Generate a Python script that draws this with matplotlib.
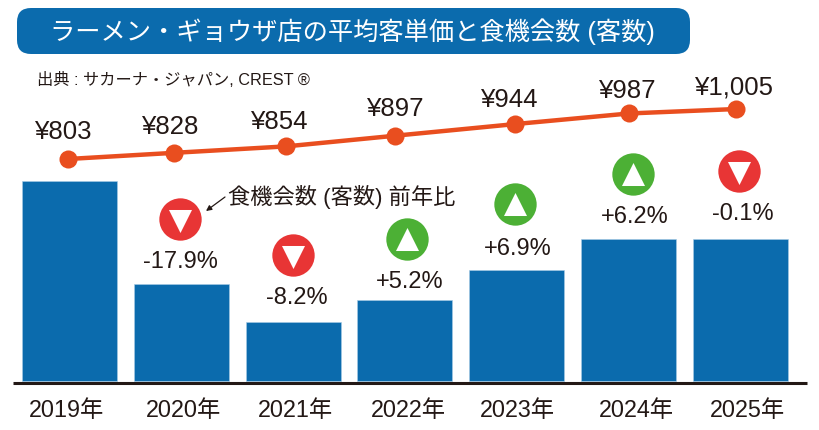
import matplotlib
matplotlib.use("Agg")
import matplotlib.pyplot as plt
from matplotlib.patches import FancyBboxPatch

plt.rcParams['font.family'] = ['Liberation Sans', 'Noto Sans CJK JP', 'DejaVu Sans']

# Chart data
years = ["2019年", "2020年", "2021年", "2022年", "2023年", "2024年", "2025年"]
price_yen = [803, 828, 854, 897, 944, 987, 1005]
price_labels = ["¥803", "¥828", "¥854", "¥897", "¥944", "¥987", "¥1,005"]
visits_index = [99.6, 48.3, 29.4, 40.3, 55.2, 70.6, 70.6]
change_labels = ["-17.9%", "-8.2%", "+5.2%", "+6.9%", "+6.2%", "-0.1%"]
title_text = "ラーメン・ギョウザ店の平均客単価と食機会数 (客数)"
source_text = "出典 : サカーナ・ジャパン, CREST ®"
note_text = "食機会数 (客数) 前年比"

# Layout, in figure pixels measured from the top left
BAR_X0, BAR_STEP = 69.5, 111.83
line_shift = [-1.5, -7, -7, -10, -2, 0.5, -4]
price_label_xy = [(62.7, 132), (169.7, 127), (278.7, 122), (395, 109),
                  (509, 100.3), (627, 91), (734, 87.7)]
change_label_xy = [(180, 262), (296.7, 297.7), (410, 282),
                   (518, 248.7), (635, 217), (743, 214)]
badge_xy = [(180, 220), (293, 255.5), (407, 239.5),
            (515, 204.5), (632.7, 174.5), (739, 172)]
year_label_x = [66.7, 184, 295.7, 408, 517, 636.7, 748]

BLUE = "#0b6bad"
ORANGE = "#e94e1f"
RED = "#e83535"
GREEN = "#4cb035"
INK = "#231815"

fig = plt.figure(figsize=(8.2, 4.31), dpi=100, facecolor="white")

# Bars: 201 px for an index of 100, baseline at 382 px
ax_bar = fig.add_axes([0, 0, 1, 1])
ax_bar.set_xlim(-BAR_X0 / BAR_STEP, (820 - BAR_X0) / BAR_STEP)
ax_bar.set_ylim(-(431 - 382) / 2.01, 382 / 2.01)
ax_bar.axis("off")
ax_bar.bar(range(len(years)), visits_index, width=95 / BAR_STEP, color=BLUE,
           edgecolor="#a8cde6", linewidth=0.4, zorder=2)

# Price line on its own scale
ax_line = fig.add_axes([0, 0, 1, 1], sharex=ax_bar)
ax_line.patch.set_alpha(0)
ax_line.set_ylim(803 - (431 - 160) / 0.2475, 803 + 160 / 0.2475)
ax_line.axis("off")
line_x = [i + s / BAR_STEP for i, s in enumerate(line_shift)]
ax_line.plot(line_x, price_yen, color=ORANGE, lw=3.2, marker="o", ms=13,
             mec="none", solid_capstyle="round", zorder=3)

# Annotations in pixel coordinates
ax = fig.add_axes([0, 0, 1, 1])
ax.patch.set_alpha(0)
ax.set_xlim(0, 820)
ax.set_ylim(431, 0)
ax.axis("off")

ax.add_patch(FancyBboxPatch((17, 9), 673, 46, boxstyle="round,pad=0,rounding_size=14",
                            linewidth=0, facecolor=BLUE))
ax.text(50, 32, title_text, color="white", fontsize=18.2, ha="left", va="center")
ax.text(37, 80, source_text, color=INK, fontsize=11.7, ha="left", va="center")
ax.text(228, 197, note_text, color=INK, fontsize=16, ha="left", va="center")
ax.annotate("", xy=(206, 212), xytext=(225, 198),
            arrowprops=dict(arrowstyle="-|>", color=INK, lw=0.9, mutation_scale=8,
                            shrinkA=0, shrinkB=0))

ax.plot([13, 807], [383.5, 383.5], color=INK, lw=2.2, solid_capstyle="butt", zorder=4)

for label, (x, y) in zip(price_labels, price_label_xy):
    ax.text(x, y, label, color=INK, fontsize=18.5, ha="center", va="center")

for label, (x, y), (bx, by) in zip(change_labels, change_label_xy, badge_xy):
    ax.text(x, y, label, color=INK, fontsize=17, ha="center", va="center")
    falling = label.startswith("-")
    ax.scatter([bx], [by], s=930, color=RED if falling else GREEN, linewidths=0)
    ax.scatter([bx], [by + (2 if falling else 0)], s=275,
               marker="v" if falling else "^", color="white", linewidths=0)

for label, x in zip(years, year_label_x):
    ax.text(x, 411, label, color=INK, fontsize=16.8, ha="center", va="center")

fig.savefig("out.png", dpi=100)
